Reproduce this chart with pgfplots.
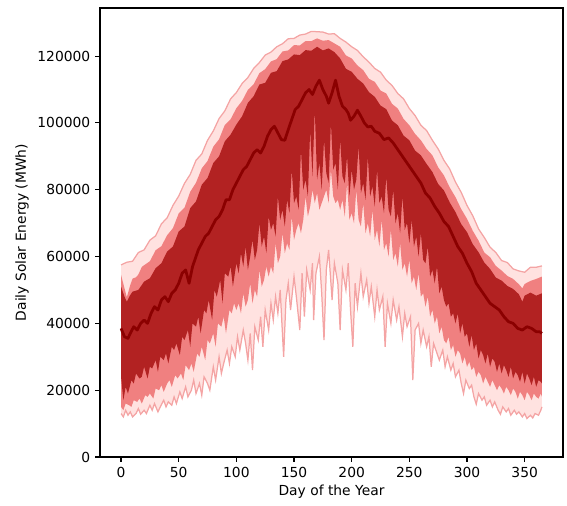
\documentclass[border=0pt]{standalone}
\usepackage{fontspec}
\setmainfont{DejaVu Sans}
\usepackage{pgfplots}
\pgfplotsset{compat=1.18}
\usepackage{pgfplotstable}
\usepgfplotslibrary{fillbetween}

\definecolor{pale}{HTML}{FFE2E0}
\definecolor{edgep}{HTML}{F4A4A4}
\definecolor{salmonc}{HTML}{F08080}
\definecolor{fire}{HTML}{B22222}
\definecolor{dred}{HTML}{8B0000}

\pgfplotstableread{
d v
0 57.5
5 58.3
10 58.6
15 61.2
20 62.0
25 64.9
30 66.2
35 69.8
40 71.6
45 75.3
50 78.1
55 81.9
60 84.6
65 88.8
70 90.7
75 94.8
80 97.6
85 101.3
90 103.6
95 107.2
100 109.1
105 111.8
110 113.6
115 116.3
120 118.1
125 120.3
130 121.2
135 122.8
140 123.7
145 125.2
150 125.3
155 126.3
160 126.6
165 127.4
170 127.3
175 127.2
180 126.6
185 126.7
190 125.3
195 124.2
200 122.8
205 121.7
210 119.8
215 118.2
220 116.3
225 115.2
230 112.8
235 111.2
240 108.8
245 107.2
250 104.3
255 102.2
260 99.3
265 97.7
270 94.8
275 92.2
280 88.8
285 86.2
290 82.3
295 79.2
300 75.3
305 72.2
310 68.3
315 65.7
320 62.8
325 61.2
330 58.8
335 58.2
340 56.3
345 55.7
350 55.3
355 56.8
360 56.8
365 57.2
}\tmax

\pgfplotstableread{
d v
0 54.5
3 50.5
5 47.8
8 51.5
10 53.4
13 53.8
15 54.6
18 56.9
20 57.4
25 58.6
30 61.9
35 63.1
40 66.4
45 68.5
50 72.9
55 74.6
60 79.4
65 82.1
70 86.4
75 88.6
80 92.9
85 95.1
90 99.4
95 101.1
100 104.4
105 106.6
110 109.9
115 111.6
120 114.9
125 116.1
130 118.4
135 119.1
140 121.4
145 121.7
150 123.3
155 123.2
160 124.5
165 124.5
170 125.3
175 124.6
180 124.8
185 123.8
190 122.8
195 120.2
200 119.3
205 117.2
210 115.8
215 113.2
220 112.3
225 109.7
230 108.8
235 105.7
240 104.3
245 101.2
250 99.3
255 96.7
260 94.8
265 92.2
270 90.3
275 86.7
280 84.3
285 80.7
290 77.8
295 74.2
300 71.3
305 67.7
310 64.8
315 61.2
320 59.8
325 57.2
330 55.8
335 54.2
340 53.3
345 51.7
348 50.5
350 51.8
355 52.7
360 53.3
365 54.0
}\tninety

\pgfplotstableread{
d v
0 51
3 48
5 46.5
8 48.5
10 49.5
15 50
20 52.5
25 53.5
30 56.5
35 58
40 61.5
45 63
50 67.5
55 69
60 74.5
65 76.5
70 81.5
75 83.5
80 88
85 90
90 94.5
95 96.5
100 99.5
105 102
110 106
115 108
120 111.5
125 112
130 115
135 115.5
140 118.5
145 119
150 120.5
155 120.3
160 121.8
165 121.6
170 122.8
175 121.7
180 122.3
185 121.2
190 119.3
195 116.2
200 115.3
205 113.2
210 111.8
215 109.2
220 107.8
225 105.2
230 104.1
235 100.7
240 99.3
245 96.2
250 94.8
255 91.7
260 90.3
265 87.7
270 85.3
275 81.7
280 79.8
285 76.2
290 73.3
295 69.7
300 67.3
305 63.7
310 61.3
315 58.2
320 56.3
325 53.7
330 52.8
335 51.2
340 50.3
345 48.7
348 46.5
350 48.3
355 49.2
360 48.3
365 49
}\tsevfive

\pgfplotstableread{
d v
0 38.5
3 36
6 35.5
8 37
11 39
14 38
17 40
20 41
23 40
26 43
29 45
32 44
35 47
38 48
41 46.5
44 49
47 50
50 52
53 55
56 56
59 52
62 57
65 60
67 62
70 64
73 66
76 67
79 69
82 71
85 72
88 74
91 77
94 77
97 80
100 82
103 84
106 86
109 87
112 89
115 91
118 92
121 91
124 93
127 96
130 98
133 99
136 97
139 95
142 94.8
145 98
148 101
151 104
154 105
157 107
160 109
163 110
166 108.5
169 111
172 112.8
175 110
178 108
180 105.9
183 109
186 112.8
189 108
192 105
195 104
197 102.9
199 100.8
202 102
205 103.8
208 102
211 100
214 98.8
217 99
220 97.5
224 96.9
228 95
232 95.5
236 94
240 92
244 90
248 88
252 86
256 84
260 82
264 79
268 77.5
272 75
276 73
280 70.5
284 69
288 66
292 63
296 61
300 58
304 55.5
308 52
312 50
316 48
320 46
324 45
328 44
332 42
336 40.5
340 40
344 38.5
348 38
352 39
356 38.5
360 37.5
363 37.5
365 37
}\tmed

\pgfplotstableread{
d v
0 24
2 17
4 21
6 19
9 23
11 22
13 25
16 23.5
18 24
20 27
23 23.5
25 27
27 26.5
30 29
32 25.5
34 30
37 29
39 31
41 28
44 33
46 32
48 34
51 30.5
53 36
55 35
58 38
60 33
62 40
65 39
67 42
69 37
72 44
74 43
76 47
79 41
81 50
83 48
86 53
88 46
90 55
93 54
95 57
97 51
100 58
102 55
104 61
106 57
108 63
110 56
112 60
114 65
116 59
118 62
120 70
122 63
124 66
126 61
128 72
130 68
132 70
134 66
136 78
138 71
140 74
142 69
144 77
146 73
148 86
150 76
152 78
154 74
156 92
158 80
160 83
162 78
164 98
166 84
168 104
170 83
172 88
174 80
176 95
178 85
180 82
182 100
184 86
186 88
188 80
190 95
192 84
194 82
196 90
198 78
200 86
202 80
204 83
206 93
208 79
210 82
212 77
214 90
216 78
218 81
220 75
222 86
224 76
226 78
228 73
230 84
232 74
234 72
236 80
238 70
240 73
242 67
244 78
246 68
248 70
250 64
252 71
254 63
256 66
258 60
260 67
262 59
264 58
266 63
268 54
270 56
272 52
274 57
276 49
278 51
280 47
282 45
284 46
286 42
288 43
290 40
292 43
294 37
296 40
298 36
300 37
302 33
304 36.5
306 32
308 34
310 29.5
312 32
314 30.5
316 28
318 31
320 27
322 29.5
324 28.5
326 25.5
328 28
330 25
332 27.5
334 26
336 24
338 27
340 23.5
342 25.5
344 24.5
346 22.5
348 25.5
350 22
352 25
354 23.5
356 21.5
358 24
360 21
362 23
364 22.5
365 22
}\ttwfive

\pgfplotstableread{
d v
0 15
2 14
4 16
7 15.5
9 15
11 17
14 16.5
16 17.5
18 16
21 18.5
23 18
25 19
28 17.5
30 20.5
33 20
35 21.5
37 19.5
40 22
42 23
44 21
47 24.5
49 23.5
52 25
54 23
56 27.5
59 26
61 28
63 25.5
66 31
68 30
70 33
73 29
75 35
77 34
80 37
82 33
84 40
87 39
89 42
91 37
94 44
96 43
98 46
100 44
102 46
104 43
106 49
108 45
110 47
112 52
114 46
116 50
118 48
120 56
122 51
124 53
126 57
128 54
130 57
132 55
134 64
136 58
138 60
140 67
142 61
144 64
146 62
148 72
150 65
152 68
154 70
156 67
158 71
160 78
162 72
164 75
166 80
168 76
170 79
172 74
174 76
176 78
178 80
180 76
182 86
184 78
186 76
188 77
190 74
192 77
194 72
196 82
198 71
200 73
202 70
204 80
206 71
208 69
210 76
212 67
214 70
216 66
218 74
220 65
222 68
224 63
226 71
228 62
230 64
232 60
234 68
236 59
238 61
240 57
242 64
244 56
246 58
248 54
250 59
252 52
254 54
256 50
258 55
260 48
262 49
264 45
266 48
268 42
270 44
272 40
274 42
276 37
278 39
280 35
282 34
284 36
286 32
288 33.5
290 30
292 32
294 31
296 28
298 30
300 27
302 28.5
304 26
306 27
308 24
310 25.5
312 24.5
314 22
316 24
318 22.5
320 21
322 23
324 21.5
326 20
328 21.5
330 20.5
332 19
334 21
336 20
338 18.5
340 20.5
342 19.5
344 17.5
346 19.5
348 18.5
350 17
352 19.5
354 18.5
356 17
358 19
360 18
362 17.5
364 19
365 18
}\tten

\pgfplotstableread{
d v
0 13
2 12
4 14
6 12.5
8 13.5
10 12
13 13
15 14.5
17 12.8
20 14
22 13
25 15.5
27 14
29 16
32 13.5
34 15
37 17
39 15
41 16.5
44 15.5
46 18
48 16
51 19.5
53 17.5
56 21
58 18
61 20
63 23
65 19
68 22
70 18.5
72 24
75 22
77 20
80 27
82 23
85 30
87 25
89 28
92 32
94 28
96 33
99 30
101 36
103 32
106 38
108 34
110 29
112 37
114 26
116 39
119 35
121 42
123 33
125 44
128 38
130 46
132 41
134 48
136 43
138 50
141 30
143 47
145 52
147 44
150 54
152 48
155 38
157 55
159 42
161 56
164 50
166 58
167 41
169 55
172 60
174 49
176 35
178 56
180 62
183 47
185 58
188 52
190 38
192 56
195 50
197 58
199 44
201 33
203 52
205 45
208 55
210 48
213 53
215 46
217 51
220 42
222 50
224 44
227 48
229 33
231 46
234 40
236 47
239 41
241 45
244 36
246 43
248 39
251 42
253 23
255 38
258 40
260 34
262 38
265 33
267 36
269 27
271 34
274 31
276 29
279 32
281 27
283 30
286 26
288 28
290 24
293 26
295 22
297 19
299 23
302 20.5
304 21.5
306 18
308 15.8
310 19
313 17
315 18
317 15.5
320 17
322 15
324 16.5
327 14
329 12.8
331 15
334 13.5
336 14.5
338 12.5
341 14
343 12.8
345 13.5
348 12
350 13
352 11.5
355 12.5
357 11.7
359 13
362 12.5
364 14
365 15
}\tmin

\begin{document}
\begin{tikzpicture}
\path (0,0) rectangle (408.24bp,364.32bp);
\begin{axis}[
  at={(72bp,35.28bp)}, anchor=south west,
  scale only axis, width=333.36bp, height=323.28bp,
  xmin=-18.25, xmax=383.25, ymin=0, ymax=134400,
  xtick={0,50,...,350}, ytick={0,20000,40000,60000,80000,100000,120000},
  scaled y ticks=false, scaled x ticks=false,
  /pgf/number format/assume math mode=true,
  yticklabel style={/pgf/number format/.cd, fixed, 1000 sep={}},
  tick align=outside, major tick length=3.5pt,
  tick style={black, line width=0.8pt},
  axis line style={line width=0.8pt},
  xtick pos=bottom, ytick pos=left,
  tick label style={font=\fontsize{10}{12}\selectfont},
  label style={font=\fontsize{10}{12}\selectfont},
  xlabel={Day of the Year},
  ylabel={Daily Solar Energy (MWh)},
  xlabel style={at={(axis description cs:0.5,-0.078)}, anchor=center},
  ylabel style={at={(axis description cs:-0.1685,0.5)}, anchor=center},
]
\addplot[name path=pmax, draw=edgep, line width=0.9pt] table[x=d,y expr=\thisrow{v}*1000] {\tmax};
\addplot[name path=pmin, draw=edgep, line width=0.9pt] table[x=d,y expr=\thisrow{v}*1000] {\tmin};
\addplot[pale] fill between[of=pmax and pmin];
\addplot[name path=p90, draw=none] table[x=d,y expr=\thisrow{v}*1000] {\tninety};
\addplot[name path=p10, draw=none] table[x=d,y expr=\thisrow{v}*1000] {\tten};
\addplot[salmonc] fill between[of=p90 and p10];
\addplot[name path=p75, draw=none] table[x=d,y expr=\thisrow{v}*1000] {\tsevfive};
\addplot[name path=p25, draw=none] table[x=d,y expr=\thisrow{v}*1000] {\ttwfive};
\addplot[fire] fill between[of=p75 and p25];
\addplot[dred, line width=2pt, line join=round] table[x=d,y expr=\thisrow{v}*1000] {\tmed};
\end{axis}
\end{tikzpicture}
\end{document}
